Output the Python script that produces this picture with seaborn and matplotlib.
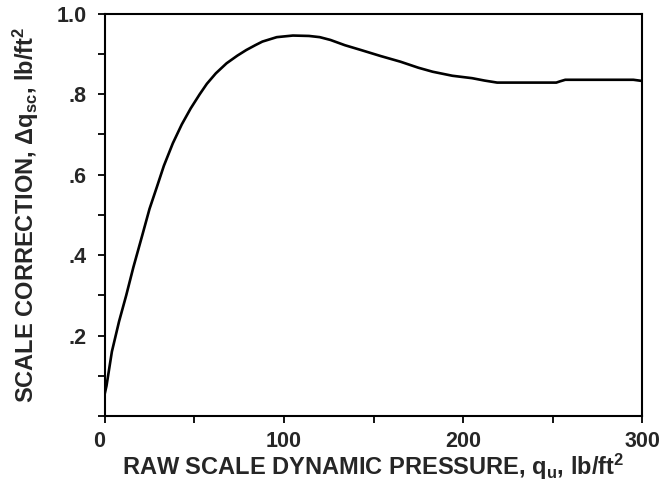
import matplotlib
matplotlib.use("Agg")
import matplotlib.pyplot as plt
from matplotlib.ticker import MultipleLocator
import numpy as np
import pandas as pd
import seaborn as sns

# values
q_raw = [0, 1, 4, 8, 12, 16, 21, 25, 29, 33, 38, 43, 48, 53, 57, 62, 68,
         74, 79, 84, 88, 96, 105, 114, 120, 126, 134, 143, 154, 165, 175,
         183, 194, 205, 212, 219, 235, 252, 254, 257, 275, 295, 300]
dq_corr = [0.055, 0.075, 0.16, 0.235, 0.30, 0.37, 0.45, 0.515, 0.568, 0.622,
           0.678, 0.725, 0.765, 0.80, 0.826, 0.852, 0.877, 0.896, 0.910,
           0.922, 0.931, 0.942, 0.946, 0.945, 0.942, 0.935, 0.922, 0.910,
           0.895, 0.881, 0.866, 0.856, 0.846, 0.840, 0.834, 0.829, 0.829,
           0.829, 0.832, 0.836, 0.836, 0.836, 0.833]
xtick_vals = [0, 100, 200, 300]
xtick_labels = ["0", "100", "200", "300"]
ytick_vals = [0, 0.2, 0.4, 0.6, 0.8, 1.0]
ytick_labels = ["", ".2", ".4", ".6", ".8", "1.0"]

df = pd.DataFrame({"q": q_raw, "dq": dq_corr})

sns.set_style("ticks")
plt.rcParams["font.family"] = ["Liberation Sans", "DejaVu Sans"]
plt.rcParams["font.weight"] = "bold"
plt.rcParams["mathtext.fontset"] = "custom"
plt.rcParams["mathtext.rm"] = "Liberation Sans:bold"
plt.rcParams["mathtext.it"] = "Liberation Sans:bold"
plt.rcParams["mathtext.bf"] = "Liberation Sans:bold"
plt.rcParams["mathtext.default"] = "rm"

fig = plt.figure(figsize=(6.67, 4.94), dpi=100)
ax = fig.add_axes([0.157, 0.158, 0.806, 0.814])

sns.lineplot(data=df, x="q", y="dq", ax=ax, color="black", linewidth=1.9)

ax.set_xlim(0, 300)
ax.set_ylim(0, 1.0)
ax.set_xticks(xtick_vals)
ax.set_xticklabels(xtick_labels, fontsize=15.5, fontweight="bold")
ax.set_yticks(ytick_vals)
ax.set_yticklabels(ytick_labels, fontsize=15.5, fontweight="bold")
ax.get_xticklabels()[0].set_horizontalalignment("right")
ax.xaxis.set_minor_locator(MultipleLocator(50))
ax.yaxis.set_minor_locator(MultipleLocator(0.1))
ax.tick_params(axis="both", which="both", direction="out", length=5,
               width=1.3, color="black")
ax.tick_params(axis="x", which="major", pad=6)
ax.tick_params(axis="y", which="major", pad=8)

for s in ax.spines.values():
    s.set_visible(True)
    s.set_linewidth(1.5)
    s.set_color("black")

ax.set_xlabel(r"RAW SCALE DYNAMIC PRESSURE, q$_{u}$, lb/ft$^{2}$",
              fontsize=17, fontweight="bold", labelpad=0)
ax.set_ylabel(r"SCALE CORRECTION, $\Delta$q$_{sc}$, lb/ft$^{2}$",
              fontsize=17, fontweight="bold", labelpad=11)

fig.savefig("out.png", dpi=100)
